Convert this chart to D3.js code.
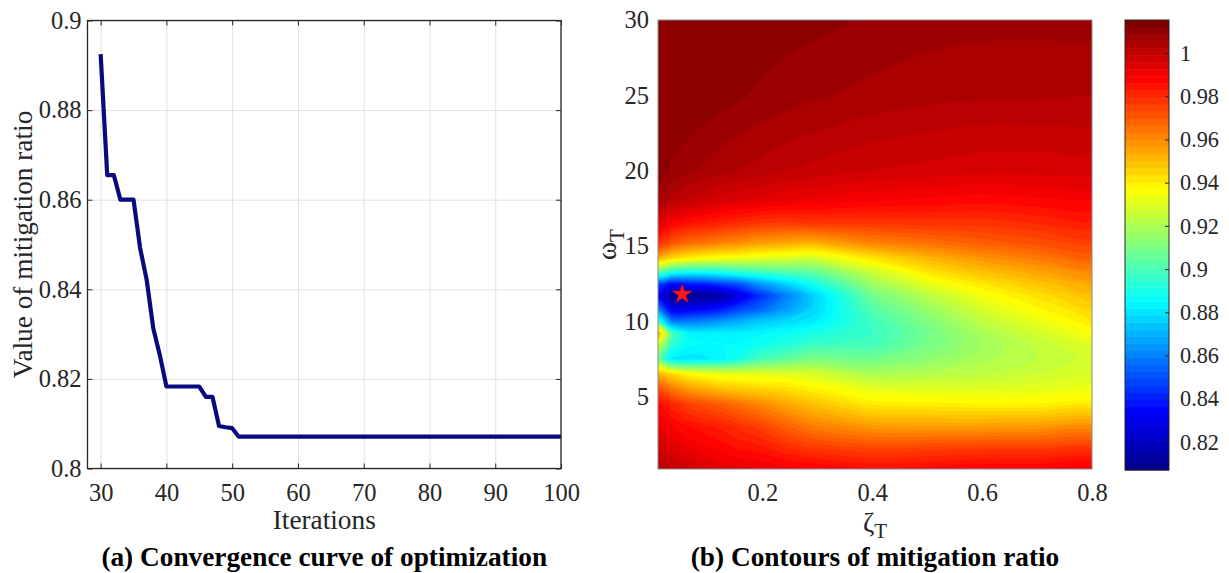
<!DOCTYPE html>
<html>
<head>
<meta charset="utf-8">
<script src="https://cdn.jsdelivr.net/npm/d3@7"></script>
<style>
  body { margin: 0; background: #fff; }
  svg { display: block; font-family: "Liberation Serif", "Times New Roman", serif; }
  text { font-family: "Liberation Serif", "Times New Roman", serif; }
</style>
</head>
<body>
<svg id="fig" width="1229" height="573"></svg>
<script>
// ---------- (a) convergence curve ----------
const iterations = [30, 31, 32, 33, 34, 35, 36, 37, 38, 39, 40, 41, 42, 43, 44, 45, 46, 47, 48, 49, 50, 51, 100];
const ratioBest = [0.8925, 0.8655, 0.8655, 0.8600, 0.8600, 0.8600, 0.8492, 0.8421, 0.8313, 0.8253, 0.8183,
  0.8183, 0.8183, 0.8183, 0.8183, 0.8183, 0.8160, 0.8160, 0.8095, 0.8092, 0.8090, 0.8071, 0.8071];
const iterTicks = [30, 40, 50, 60, 70, 80, 90, 100];
const iterTickLabels = ["30", "40", "50", "60", "70", "80", "90", "100"];
const ratioTicks = [0.8, 0.82, 0.84, 0.86, 0.88, 0.9];
const ratioTickLabels = ["0.8", "0.82", "0.84", "0.86", "0.88", "0.9"];

// ---------- (b) contour map ----------
const zetaGrid = [0.01, 0.035, 0.065, 0.095, 0.126, 0.157, 0.19, 0.24, 0.29, 0.4, 0.5, 0.6, 0.7, 0.8];
const omegaGrid = [0.2, 1.5, 3, 4.5, 5.5, 6.5, 7.5, 8.5, 9.2, 10, 10.8, 11.7, 12.5, 13.3, 14.2, 15.2, 16.5, 18, 20, 22.5, 25, 30];
// one row per omegaGrid value, one column per zetaGrid value
const ratioRows = [
  [1.004, 1.002, 0.999, 0.997, 0.995, 0.994, 0.993, 0.991, 0.990, 0.987, 0.988, 0.990, 0.990, 0.991],
  [0.999, 0.996, 0.993, 0.991, 0.989, 0.987, 0.986, 0.982, 0.979, 0.976, 0.977, 0.978, 0.978, 0.978],
  [0.993, 0.990, 0.987, 0.985, 0.983, 0.980, 0.977, 0.970, 0.964, 0.958, 0.957, 0.957, 0.958, 0.959],
  [0.987, 0.982, 0.976, 0.973, 0.970, 0.966, 0.962, 0.956, 0.950, 0.941, 0.940, 0.939, 0.939, 0.939],
  [0.973, 0.965, 0.958, 0.954, 0.950, 0.948, 0.946, 0.944, 0.940, 0.932, 0.931, 0.931, 0.932, 0.934],
  [0.952, 0.945, 0.938, 0.935, 0.933, 0.932, 0.932, 0.931, 0.929, 0.920, 0.922, 0.924, 0.927, 0.930],
  [0.905, 0.882, 0.880, 0.881, 0.884, 0.889, 0.898, 0.904, 0.910, 0.908, 0.914, 0.920, 0.924, 0.928],
  [0.930, 0.895, 0.886, 0.885, 0.885, 0.885, 0.887, 0.891, 0.896, 0.899, 0.909, 0.918, 0.925, 0.931],
  [0.955, 0.900, 0.884, 0.883, 0.883, 0.883, 0.884, 0.887, 0.890, 0.897, 0.908, 0.920, 0.928, 0.936],
  [0.895, 0.858, 0.858, 0.860, 0.864, 0.868, 0.873, 0.877, 0.881, 0.898, 0.911, 0.924, 0.933, 0.941],
  [0.860, 0.830, 0.830, 0.833, 0.838, 0.846, 0.852, 0.864, 0.876, 0.902, 0.916, 0.929, 0.938, 0.945],
  [0.830, 0.809, 0.807, 0.808, 0.812, 0.826, 0.840, 0.858, 0.875, 0.908, 0.923, 0.935, 0.943, 0.950],
  [0.845, 0.835, 0.838, 0.840, 0.845, 0.850, 0.862, 0.875, 0.888, 0.917, 0.932, 0.942, 0.949, 0.955],
  [0.905, 0.893, 0.888, 0.889, 0.891, 0.895, 0.898, 0.902, 0.905, 0.927, 0.942, 0.950, 0.956, 0.961],
  [0.952, 0.945, 0.940, 0.937, 0.935, 0.934, 0.932, 0.930, 0.928, 0.942, 0.952, 0.959, 0.964, 0.969],
  [0.980, 0.972, 0.967, 0.965, 0.962, 0.960, 0.957, 0.955, 0.953, 0.962, 0.966, 0.970, 0.973, 0.976],
  [0.994, 0.989, 0.986, 0.984, 0.982, 0.980, 0.978, 0.977, 0.978, 0.978, 0.979, 0.979, 0.981, 0.983],
  [1.007, 1.004, 1.001, 0.999, 0.997, 0.996, 0.995, 0.993, 0.992, 0.990, 0.989, 0.988, 0.989, 0.990],
  [1.0135, 1.0102, 1.0085, 1.0072, 1.006, 1.005, 1.004, 1.002, 1.001, 0.999, 0.998, 0.997, 0.997, 0.997],
  [1.0145, 1.0128, 1.0115, 1.0102, 1.0092, 1.0082, 1.0072, 1.006, 1.005, 1.003, 1.002, 1.001, 1.001, 1.001],
  [1.0146, 1.0145, 1.0142, 1.0135, 1.0125, 1.0115, 1.0105, 1.0095, 1.0085, 1.007, 1.006, 1.0055, 1.0053, 1.005],
  [1.0146, 1.0146, 1.0146, 1.0146, 1.0145, 1.0143, 1.0135, 1.0125, 1.012, 1.0105, 1.0095, 1.009, 1.009, 1.009]
];
const optimum = { zeta: 0.054, omega: 11.8 };
const zetaTicks = [0.2, 0.4, 0.6, 0.8];
const zetaTickLabels = ["0.2", "0.4", "0.6", "0.8"];
const omegaTicks = [5, 10, 15, 20, 25, 30];
const omegaTickLabels = ["5", "10", "15", "20", "25", "30"];
const colorLimits = [0.807, 1.0153];
const colorTicks = [0.82, 0.84, 0.86, 0.88, 0.9, 0.92, 0.94, 0.96, 0.98, 1];
const colorTickLabels = ["0.82", "0.84", "0.86", "0.88", "0.9", "0.92", "0.94", "0.96", "0.98", "1"];

const ink = "#262626";
const serif = "Liberation Serif";
const svg = d3.select("#fig");

// jet colormap
const jetStops = d3.scaleLinear()
  .domain([0, 1 / 8, 3 / 8, 5 / 8, 7 / 8, 1])
  .range(["#00008f", "#0000ff", "#00ffff", "#ffff00", "#ff0000", "#800000"])
  .clamp(true);
const colorNorm = d3.scaleLinear().domain(colorLimits).range([0, 1]);
const jet = v => jetStops(colorNorm(v));

function styleAxis(g, size) {
  g.attr("font-family", serif);
  g.select(".domain").remove();
  g.selectAll("line").attr("stroke", ink).attr("stroke-width", 1);
  g.selectAll("text").attr("fill", ink).attr("font-family", serif).style("font-size", size + "px");
}

// ======================= panel (a) =======================
const xL = d3.scaleLinear().domain([28, 100]).range([87.5, 561]);
const yL = d3.scaleLinear().domain([0.8, 0.9]).range([468.5, 20.5]);
const hL = yL.range()[0] - yL.range()[1];
const wL = xL.range()[1] - xL.range()[0];

const pa = svg.append("g");

// grid
pa.append("g")
  .attr("transform", `translate(0,${yL.range()[0]})`)
  .call(d3.axisBottom(xL).tickValues(iterTicks).tickSize(-hL).tickFormat(""))
  .call(g => g.select(".domain").remove())
  .selectAll("line").attr("stroke", "#e1e1e1");
pa.append("g")
  .attr("transform", `translate(${xL.range()[0]},0)`)
  .call(d3.axisLeft(yL).tickValues(ratioTicks).tickSize(-wL).tickFormat(""))
  .call(g => g.select(".domain").remove())
  .selectAll("line").attr("stroke", "#e1e1e1");

// curve
pa.append("path")
  .datum(iterations.map((it, i) => [it, ratioBest[i]]))
  .attr("fill", "none")
  .attr("stroke", "#0a0a80")
  .attr("stroke-width", 4.2)
  .attr("stroke-linejoin", "round")
  .attr("d", d3.line().x(d => xL(d[0])).y(d => yL(d[1])));

// box + inward ticks on all sides
pa.append("g").attr("transform", `translate(0,${yL.range()[0]})`)
  .call(d3.axisBottom(xL).tickValues(iterTicks).tickSizeInner(-5).tickSizeOuter(0).tickPadding(15)
    .tickFormat((d, i) => iterTickLabels[i]))
  .call(g => styleAxis(g, 24.5));
pa.append("g").attr("transform", `translate(0,${yL.range()[1]})`)
  .call(d3.axisTop(xL).tickValues(iterTicks).tickSizeInner(-5).tickSizeOuter(0).tickFormat(""))
  .call(g => styleAxis(g, 24.5));
pa.append("g").attr("transform", `translate(${xL.range()[0]},0)`)
  .call(d3.axisLeft(yL).tickValues(ratioTicks).tickSizeInner(-5).tickSizeOuter(0).tickPadding(6)
    .tickFormat((d, i) => ratioTickLabels[i]))
  .call(g => styleAxis(g, 24.5));
pa.append("g").attr("transform", `translate(${xL.range()[1]},0)`)
  .call(d3.axisRight(yL).tickValues(ratioTicks).tickSizeInner(-5).tickSizeOuter(0).tickFormat(""))
  .call(g => styleAxis(g, 24.5));
pa.append("rect")
  .attr("x", xL.range()[0]).attr("y", yL.range()[1])
  .attr("width", wL).attr("height", hL)
  .attr("fill", "none").attr("stroke", ink).attr("stroke-width", 1.3);

pa.append("text")
  .attr("x", (xL.range()[0] + xL.range()[1]) / 2).attr("y", 529)
  .attr("text-anchor", "middle").attr("fill", ink).attr("font-family", serif).style("font-size", "27.3px")
  .text("Iterations");
pa.append("text")
  .attr("transform", `translate(32,${(yL.range()[0] + yL.range()[1]) / 2}) rotate(-90)`)
  .attr("text-anchor", "middle").attr("fill", ink).attr("font-family", serif).style("font-size", "27.3px")
  .text("Value of mitigation ratio");
pa.append("text")
  .attr("x", (xL.range()[0] + xL.range()[1]) / 2).attr("y", 566)
  .attr("text-anchor", "middle").attr("fill", "#000").attr("font-family", serif)
  .style("font-size", "27.3px").style("font-weight", "bold")
  .text("(a) Convergence curve of optimization");

// ======================= panel (b) =======================
const xR = d3.scaleLinear().domain([0.01, 0.8]).range([658, 1092]);
const yR = d3.scaleLinear().domain([0.2, 30]).range([469, 20]);
const wR = xR.range()[1] - xR.range()[0];
const hR = yR.range()[0] - yR.range()[1];
const pb = svg.append("g");

pb.append("clipPath").attr("id", "clipB")
  .append("rect")
  .attr("x", xR.range()[0]).attr("y", yR.range()[1])
  .attr("width", wR).attr("height", hR);

const nx = zetaGrid.length, ny = omegaGrid.length;
const levelStep = 0.003;
const levels = d3.range(colorLimits[0], colorLimits[1] - levelStep / 2, levelStep);
const bands = d3.contours().size([nx, ny]).thresholds(levels)(ratioRows.flat());

// grid index -> physical coordinate (samples sit at i + 0.5)
const gx = d3.scaleLinear().domain(d3.range(nx).map(i => i + 0.5)).range(zetaGrid).clamp(true);
const gy = d3.scaleLinear().domain(d3.range(ny).map(j => j + 0.5)).range(omegaGrid).clamp(true);
const ringLine = d3.line()
  .x(p => xR(gx(p[0])))
  .y(p => yR(gy(p[1])))
  .curve(d3.curveCatmullRomClosed.alpha(0.5));

const cg = pb.append("g").attr("clip-path", "url(#clipB)");
cg.selectAll("path.band")
  .data(bands)
  .join("path")
  .attr("class", "band")
  .attr("fill", d => jet(d.value + levelStep / 2))
  .attr("stroke", d => jet(d.value + levelStep / 2))
  .attr("stroke-width", 0.6)
  .attr("fill-rule", "evenodd")
  .attr("d", d => d.coordinates.map(poly => poly.map(ring => ringLine(ring.slice(0, -1))).join("")).join(""));

// optimum star
pb.append("path")
  .attr("transform", `translate(${xR(optimum.zeta)},${yR(optimum.omega)})`)
  .attr("d", d3.symbol(d3.symbolStar, 120)())
  .attr("fill", "#ff1a1a")
  .attr("stroke", "#c80000")
  .attr("stroke-width", 0.6);

pb.append("rect")
  .attr("x", xR.range()[0]).attr("y", yR.range()[1])
  .attr("width", wR).attr("height", hR)
  .attr("fill", "none").attr("stroke", "#8a8a8a").attr("stroke-width", 1);

pb.append("g").attr("transform", `translate(0,${yR.range()[0]})`)
  .call(d3.axisBottom(xR).tickValues(zetaTicks).tickSize(0).tickPadding(15)
    .tickFormat((d, i) => zetaTickLabels[i]))
  .call(g => styleAxis(g, 24.5));
pb.append("g").attr("transform", `translate(${xR.range()[0]},0)`)
  .call(d3.axisLeft(yR).tickValues(omegaTicks).tickSize(0).tickPadding(9)
    .tickFormat((d, i) => omegaTickLabels[i]))
  .call(g => styleAxis(g, 24.5));

const zl = pb.append("text")
  .attr("x", (xR.range()[0] + xR.range()[1]) / 2).attr("y", 532)
  .attr("text-anchor", "middle").attr("fill", ink).attr("font-family", serif).style("font-size", "27.3px");
zl.append("tspan").text("ζ");
zl.append("tspan").attr("dy", 6).style("font-size", "21px").text("T");

const wl = pb.append("text")
  .attr("transform", `translate(616,${(yR.range()[0] + yR.range()[1]) / 2}) rotate(-90)`)
  .attr("text-anchor", "middle").attr("fill", ink).attr("font-family", serif).style("font-size", "27.3px");
wl.append("tspan").text("ω");
wl.append("tspan").attr("dy", 8).style("font-size", "21px").text("T");

pb.append("text")
  .attr("x", (xR.range()[0] + xR.range()[1]) / 2).attr("y", 566)
  .attr("text-anchor", "middle").attr("fill", "#000").attr("font-family", serif)
  .style("font-size", "27.3px").style("font-weight", "bold")
  .text("(b) Contours of mitigation ratio");

// colorbar (64-entry jet)
const cbX = [1125, 1169];
const cbY = d3.scaleLinear().domain(colorLimits).range([470, 20]);
const cbSteps = d3.range(64);
const cbStep = (colorLimits[1] - colorLimits[0]) / 64;
pb.append("g").selectAll("rect")
  .data(cbSteps)
  .join("rect")
  .attr("x", cbX[0])
  .attr("width", cbX[1] - cbX[0])
  .attr("y", i => cbY(colorLimits[0] + (i + 1) * cbStep))
  .attr("height", i => cbY(colorLimits[0] + i * cbStep) - cbY(colorLimits[0] + (i + 1) * cbStep) + 0.5)
  .attr("fill", i => jetStops(i / 63));
pb.append("g").attr("transform", `translate(${cbX[1]},0)`)
  .call(d3.axisRight(cbY).tickValues(colorTicks).tickSizeInner(-4).tickSizeOuter(0).tickPadding(11)
    .tickFormat((d, i) => colorTickLabels[i]))
  .call(g => styleAxis(g, 22.3));
pb.append("rect")
  .attr("x", cbX[0]).attr("y", cbY.range()[1])
  .attr("width", cbX[1] - cbX[0]).attr("height", cbY.range()[0] - cbY.range()[1])
  .attr("fill", "none").attr("stroke", ink).attr("stroke-width", 1);
</script>
</body>
</html>
